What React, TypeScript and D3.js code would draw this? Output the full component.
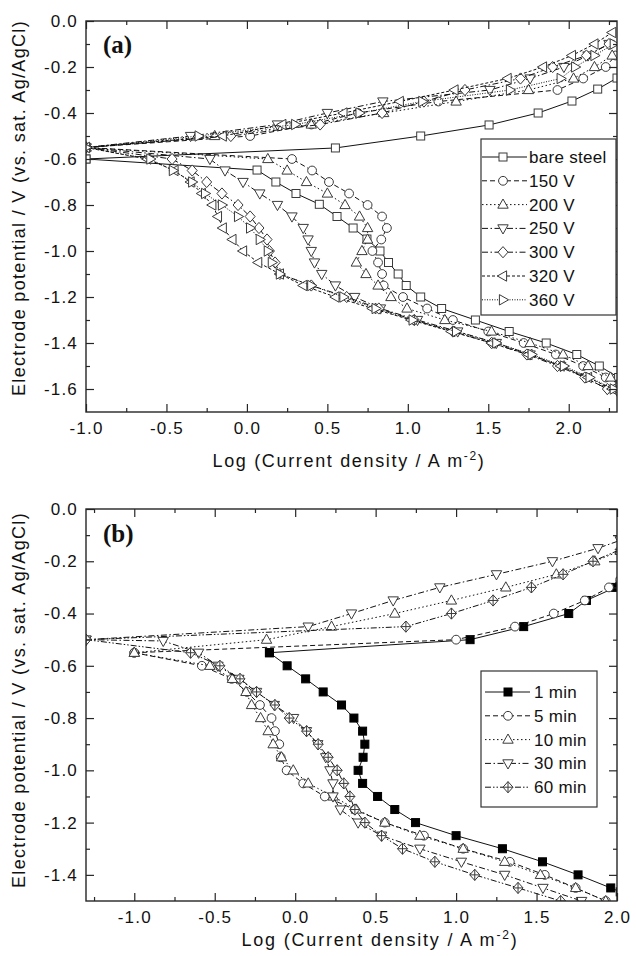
import React, { useEffect, useRef } from "react";
import * as d3 from "d3";

type P = [number, number];

// ---------------- Panel (a): coating voltage ----------------
const aLegend = ["bare steel", "150 V", "200 V", "250 V", "300 V", "320 V", "360 V"];
const aXTicks = [-1.0, -0.5, 0.0, 0.5, 1.0, 1.5, 2.0];
const aYTicks = [0, -0.2, -0.4, -0.6, -0.8, -1.0, -1.2, -1.4, -1.6];

const aBareAn: P[] = [[-1, -0.6], [0.55, -0.552], [1.08, -0.5], [1.505, -0.452], [1.81, -0.4], [2.02, -0.348], [2.18, -0.296], [2.3, -0.248]];
const aBareCa: P[] = [[-1, -0.6], [0.063, -0.648], [0.18, -0.7], [0.305, -0.75], [0.45, -0.797], [0.56, -0.85], [0.66, -0.9], [0.746, -0.948], [0.827, -1.0], [0.88, -1.05], [0.94, -1.1], [0.99, -1.15], [1.08, -1.2], [1.21, -1.25], [1.42, -1.3], [1.63, -1.35], [1.86, -1.4], [2.05, -1.45], [2.19, -1.5], [2.31, -1.55]];

const a150An: P[] = [[-1, -0.55], [0.02, -0.5], [0.4, -0.45], [0.69, -0.4], [1.19, -0.35], [1.93, -0.3], [2.09, -0.25], [2.23, -0.2], [2.29, -0.15]];
const a150Ca: P[] = [[-1, -0.55], [0.28, -0.6], [0.405, -0.65], [0.51, -0.7], [0.635, -0.75], [0.75, -0.8], [0.84, -0.85], [0.87, -0.9], [0.835, -0.95], [0.78, -1.0], [0.815, -1.05], [0.84, -1.1], [0.85, -1.15], [0.97, -1.2], [1.12, -1.25], [1.28, -1.3], [1.5, -1.35], [1.72, -1.4], [1.92, -1.45], [2.09, -1.5], [2.23, -1.55], [2.32, -1.58]];

const a200An: P[] = [[-1, -0.55], [-0.2, -0.5], [0.4, -0.45], [0.85, -0.4], [1.3, -0.35], [1.75, -0.3], [2.03, -0.25], [2.16, -0.2], [2.27, -0.15]];
const a200Ca: P[] = [[-1, -0.55], [0.13, -0.6], [0.25, -0.65], [0.37, -0.7], [0.5, -0.75], [0.61, -0.8], [0.7, -0.85], [0.75, -0.9], [0.75, -0.95], [0.715, -1.0], [0.68, -1.05], [0.74, -1.1], [0.815, -1.15], [0.895, -1.2], [0.995, -1.25], [1.23, -1.3], [1.52, -1.35], [1.76, -1.4], [1.965, -1.45], [2.12, -1.5], [2.26, -1.55], [2.32, -1.57]];

const a250An: P[] = [[-1, -0.55], [-0.35, -0.5], [0.19, -0.45], [0.5, -0.4], [0.845, -0.35], [1.51, -0.3], [1.76, -0.25], [1.97, -0.2], [2.12, -0.15], [2.25, -0.1]];
const a250Ca: P[] = [[-1, -0.55], [-0.23, -0.6], [-0.136, -0.65], [-0.024, -0.7], [0.08, -0.75], [0.19, -0.8], [0.28, -0.85], [0.35, -0.9], [0.38, -0.95], [0.4, -1.0], [0.42, -1.05], [0.465, -1.1], [0.55, -1.15], [0.67, -1.2], [0.83, -1.25], [1.06, -1.3], [1.31, -1.35], [1.55, -1.4], [1.76, -1.45], [1.95, -1.5], [2.1, -1.55], [2.24, -1.6], [2.32, -1.63]];

const a300An: P[] = [[-1, -0.55], [-0.1, -0.5], [0.455, -0.45], [0.84, -0.4], [1.1, -0.35], [1.355, -0.3], [1.7, -0.25], [1.9, -0.2], [2.11, -0.15], [2.25, -0.1]];
const a300Ca: P[] = [[-1, -0.55], [-0.465, -0.6], [-0.34, -0.65], [-0.25, -0.7], [-0.155, -0.75], [-0.055, -0.8], [0.02, -0.85], [0.075, -0.9], [0.125, -0.95], [0.14, -1.0], [0.175, -1.05], [0.205, -1.1], [0.4, -1.15], [0.62, -1.2], [0.82, -1.25], [1.04, -1.3], [1.28, -1.35], [1.52, -1.4], [1.74, -1.45], [1.93, -1.5], [2.1, -1.55], [2.24, -1.6], [2.33, -1.63]];

const a320An: P[] = [[-1, -0.55], [-0.15, -0.5], [0.22, -0.45], [0.6, -0.4], [0.95, -0.35], [1.29, -0.3], [1.62, -0.25], [1.84, -0.2], [2.02, -0.15], [2.16, -0.1], [2.27, -0.05]];
const a320Ca: P[] = [[-1, -0.55], [-0.62, -0.6], [-0.45, -0.65], [-0.35, -0.7], [-0.28, -0.75], [-0.215, -0.8], [-0.18, -0.85], [-0.15, -0.9], [-0.09, -0.95], [-0.024, -1.0], [0.07, -1.05], [0.205, -1.1], [0.35, -1.15], [0.55, -1.2], [0.78, -1.25], [1.02, -1.3], [1.27, -1.35], [1.52, -1.4], [1.75, -1.45], [1.95, -1.5], [2.12, -1.55], [2.27, -1.6]];

const a360An: P[] = [[-1, -0.55], [-0.3, -0.5], [0.3, -0.45], [0.7, -0.4], [1.09, -0.35], [1.635, -0.3], [1.95, -0.25], [2.04, -0.2], [2.16, -0.15], [2.28, -0.1]];
const a360Ca: P[] = [[-1, -0.55], [-0.6, -0.6], [-0.46, -0.65], [-0.34, -0.7], [-0.26, -0.75], [-0.155, -0.8], [-0.055, -0.85], [0.02, -0.9], [0.08, -0.95], [0.13, -1.0], [0.155, -1.05], [0.205, -1.1], [0.4, -1.15], [0.6, -1.2], [0.8, -1.25], [1.03, -1.3], [1.3, -1.35], [1.55, -1.4], [1.77, -1.45], [1.97, -1.5], [2.13, -1.55], [2.28, -1.6]];

// ---------------- Panel (b): treatment time ----------------
const bLegend = ["1 min", "5 min", "10 min", "30 min", "60 min"];
const bXTicks = [-1.0, -0.5, 0.0, 0.5, 1.0, 1.5, 2.0];
const bYTicks = [0, -0.2, -0.4, -0.6, -0.8, -1.0, -1.2, -1.4];

const b1An: P[] = [[-0.16, -0.55], [1.087, -0.5], [1.42, -0.45], [1.7, -0.4], [1.81, -0.35], [1.99, -0.3], [2.02, -0.29]];
const b1Ca: P[] = [[-0.16, -0.55], [-0.05, -0.6], [0.065, -0.65], [0.174, -0.7], [0.288, -0.75], [0.365, -0.8], [0.419, -0.85], [0.433, -0.9], [0.422, -0.95], [0.391, -1.0], [0.419, -1.05], [0.512, -1.1], [0.619, -1.15], [0.748, -1.2], [1.0, -1.25], [1.288, -1.3], [1.537, -1.35], [1.758, -1.4], [1.961, -1.45], [2.02, -1.465]];

const b5An: P[] = [[-1.0, -0.55], [1.0, -0.5], [1.366, -0.45], [1.607, -0.4], [1.8, -0.35], [1.95, -0.3], [2.02, -0.27]];
const b5Ca: P[] = [[-1.0, -0.55], [-0.58, -0.6], [-0.395, -0.65], [-0.3, -0.7], [-0.219, -0.75], [-0.147, -0.8], [-0.126, -0.85], [-0.099, -0.9], [-0.09, -0.95], [-0.053, -1.0], [0.05, -1.05], [0.184, -1.1], [0.37, -1.15], [0.557, -1.2], [0.8, -1.25], [1.044, -1.3], [1.334, -1.35], [1.551, -1.4], [1.743, -1.45], [1.93, -1.5]];

const b10An: P[] = [[-1.0, -0.55], [-0.178, -0.5], [0.226, -0.45], [0.619, -0.4], [0.971, -0.35], [1.309, -0.3], [1.623, -0.25], [1.862, -0.2], [2.02, -0.16]];
const b10Ca: P[] = [[-1.0, -0.55], [-0.53, -0.6], [-0.39, -0.65], [-0.306, -0.7], [-0.271, -0.75], [-0.215, -0.8], [-0.168, -0.85], [-0.137, -0.9], [-0.085, -0.95], [-0.012, -1.0], [0.081, -1.05], [0.236, -1.1], [0.38, -1.15], [0.557, -1.2], [0.775, -1.25], [1.044, -1.3], [1.302, -1.35], [1.524, -1.4], [1.743, -1.45], [1.93, -1.5]];

const b30An: P[] = [[-1.3, -0.5], [0.081, -0.45], [0.35, -0.4], [0.609, -0.35], [0.899, -0.3], [1.251, -0.25], [1.599, -0.2], [1.882, -0.15], [2.02, -0.12]];
const b30Ca: P[] = [[-1.3, -0.5], [-0.82, -0.505], [-0.6, -0.55], [-0.48, -0.6], [-0.35, -0.65], [-0.24, -0.7], [-0.13, -0.75], [-0.01, -0.8], [0.07, -0.85], [0.14, -0.9], [0.19, -0.95], [0.216, -1.0], [0.235, -1.05], [0.235, -1.1], [0.28, -1.15], [0.391, -1.2], [0.537, -1.25], [0.775, -1.3], [1.033, -1.35], [1.302, -1.4], [1.54, -1.45], [1.78, -1.5]];

const b60An: P[] = [[-1.3, -0.5], [0.688, -0.45], [0.971, -0.4], [1.23, -0.35], [1.468, -0.3], [1.665, -0.25], [1.851, -0.2], [2.02, -0.155]];
const b60Ca: P[] = [[-1.3, -0.5], [-0.65, -0.55], [-0.468, -0.6], [-0.343, -0.65], [-0.24, -0.7], [-0.126, -0.75], [-0.037, -0.8], [0.071, -0.85], [0.143, -0.9], [0.205, -0.95], [0.261, -1.0], [0.302, -1.05], [0.34, -1.1], [0.371, -1.15], [0.433, -1.2], [0.537, -1.25], [0.667, -1.3], [0.868, -1.35], [1.116, -1.4], [1.385, -1.45], [1.65, -1.5]];

// ---------------- styling / layout ----------------
const FONT = "'Liberation Sans', Arial, Helvetica, sans-serif";
const SERIF = "'Liberation Serif', 'Times New Roman', serif";
const PL = 86;
const PR = 617;
const AX = "#262626";
const MK = "#3a3a3a";

const DASH = {
  solid: null as string | null,
  dash: "5,3",
  dot: "1.5,2.5",
  dashDot: "6,2.5,1.5,2.5",
  dashDotDot: "6,2,1.5,2,1.5,2",
  shortDash: "3,2",
  shortDot: "1,1.5",
};

type Series = { name: string; marker: string; dash: string | null; an: P[]; ca: P[] };

const seriesA: Series[] = [
  { name: aLegend[0], marker: "square", dash: DASH.solid, an: aBareAn, ca: aBareCa },
  { name: aLegend[1], marker: "circle", dash: DASH.dash, an: a150An, ca: a150Ca },
  { name: aLegend[2], marker: "triUp", dash: DASH.dot, an: a200An, ca: a200Ca },
  { name: aLegend[3], marker: "triDown", dash: DASH.dashDot, an: a250An, ca: a250Ca },
  { name: aLegend[4], marker: "diamond", dash: DASH.dashDot, an: a300An, ca: a300Ca },
  { name: aLegend[5], marker: "triLeft", dash: DASH.shortDash, an: a320An, ca: a320Ca },
  { name: aLegend[6], marker: "triRight", dash: DASH.shortDot, an: a360An, ca: a360Ca },
];

const seriesB: Series[] = [
  { name: bLegend[0], marker: "filledSquare", dash: DASH.solid, an: b1An, ca: b1Ca },
  { name: bLegend[1], marker: "circle", dash: DASH.dash, an: b5An, ca: b5Ca },
  { name: bLegend[2], marker: "triUp", dash: DASH.dot, an: b10An, ca: b10Ca },
  { name: bLegend[3], marker: "triDown", dash: DASH.dashDot, an: b30An, ca: b30Ca },
  { name: bLegend[4], marker: "crossDiamond", dash: DASH.dashDotDot, an: b60An, ca: b60Ca },
];

const panels = [
  {
    id: "a", label: "(a)", labelY: 53,
    xDomain: [-1.0, 2.3], yDomain: [-1.7, 0], top: 21, bottom: 412,
    xTicks: aXTicks, xMinor: d3.range(-0.75, 2.3, 0.5), yTicks: aYTicks, yMinor: d3.range(-0.1, -1.65, -0.2),
    series: seriesA,
    legend: { x: 481, y: 139, w: 135, h: 176, row0: 157, dy: 23.8, l0: 482, l1: 527, mx: 503, tx: 529 },
    xTitleCX: 349, xTitleY: 467, xTitleW: 273, yTitleCY: 208,
  },
  {
    id: "b", label: "(b)", labelY: 542,
    xDomain: [-1.3, 2.0], yDomain: [-1.5, 0], top: 509, bottom: 901,
    xTicks: bXTicks, xMinor: d3.range(-1.25, 2.0, 0.5), yTicks: bYTicks, yMinor: d3.range(-0.1, -1.45, -0.2),
    series: seriesB,
    legend: { x: 481, y: 671, w: 116, h: 136, row0: 692, dy: 23.8, l0: 485, l1: 530, mx: 508, tx: 534 },
    xTitleCX: 380, xTitleY: 946, xTitleW: 277, yTitleCY: 700,
  },
];

function drawMarker(g: any, kind: string, cx: number, cy: number) {
  const st = (el: any, fill = "#fff") => el.attr("fill", fill).attr("stroke", MK).attr("stroke-width", 1);
  switch (kind) {
    case "square":
      st(g.append("rect").attr("x", cx - 4).attr("y", cy - 4).attr("width", 8).attr("height", 8));
      break;
    case "filledSquare":
      st(g.append("rect").attr("x", cx - 4).attr("y", cy - 4).attr("width", 8).attr("height", 8), "#000").attr("stroke", "#000");
      break;
    case "circle":
      st(g.append("circle").attr("cx", cx).attr("cy", cy).attr("r", 4.4));
      break;
    case "triUp":
      st(g.append("path").attr("d", `M${cx},${cy - 5.6}L${cx + 5.2},${cy + 3.6}L${cx - 5.2},${cy + 3.6}Z`));
      break;
    case "triDown":
      st(g.append("path").attr("d", `M${cx},${cy + 5.6}L${cx + 5.2},${cy - 3.6}L${cx - 5.2},${cy - 3.6}Z`));
      break;
    case "triLeft":
      st(g.append("path").attr("d", `M${cx - 5.6},${cy}L${cx + 3.6},${cy - 5.2}L${cx + 3.6},${cy + 5.2}Z`));
      break;
    case "triRight":
      st(g.append("path").attr("d", `M${cx + 5.6},${cy}L${cx - 3.6},${cy - 5.2}L${cx - 3.6},${cy + 5.2}Z`));
      break;
    case "diamond":
      st(g.append("path").attr("d", `M${cx},${cy - 5.6}L${cx + 5},${cy}L${cx},${cy + 5.6}L${cx - 5},${cy}Z`));
      break;
    case "crossDiamond":
      st(g.append("path").attr("d", `M${cx},${cy - 5.6}L${cx + 5},${cy}L${cx},${cy + 5.6}L${cx - 5},${cy}Z`));
      g.append("path").attr("d", `M${cx},${cy - 5.6}V${cy + 5.6}M${cx - 5},${cy}H${cx + 5}`)
        .attr("stroke", MK).attr("stroke-width", 1).attr("fill", "none");
      break;
  }
}

const fmt = (v: number) => (Math.abs(v) < 1e-9 ? "0.0" : v.toFixed(1));

function fitText(sel: any, target: number) {
  const node = sel.node() as SVGTextElement;
  const n = (node.textContent || "").length;
  const len = node.getComputedTextLength();
  if (n > 1) sel.attr("letter-spacing", ((target - len) / n).toFixed(3));
}

function drawPanel(root: any, cfg: any) {
  const x = d3.scaleLinear().domain(cfg.xDomain).range([PL, PR]);
  const y = d3.scaleLinear().domain(cfg.yDomain).range([cfg.bottom, cfg.top]);
  const g = root.append("g");
  const clipId = "clip-" + cfg.id;
  g.append("clipPath").attr("id", clipId).append("rect")
    .attr("x", PL).attr("y", cfg.top).attr("width", PR - PL).attr("height", cfg.bottom - cfg.top);

  const plot = g.append("g").attr("clip-path", `url(#${clipId})`);
  const line = d3.line<P>().x((d) => x(d[0])).y((d) => y(d[1]));
  (cfg.series as Series[]).forEach((s) => {
    [s.an, s.ca].forEach((br) => {
      plot.append("path").attr("d", line(br)).attr("fill", "none").attr("stroke", "#111")
        .attr("stroke-width", 1).attr("stroke-dasharray", s.dash);
    });
    [s.an, s.ca].forEach((br) => br.forEach((p) => drawMarker(plot, s.marker, x(p[0]), y(p[1]))));
  });

  // axes (ticks pointing inward on all four sides)
  const styleAxis = (sel: any) => {
    sel.select(".domain").remove();
    sel.selectAll("line").attr("stroke", AX).attr("stroke-width", 1.2);
    sel.selectAll("text").attr("font-family", FONT).attr("font-size", 17).attr("fill", "#111").attr("letter-spacing", 1.2);
    sel.attr("font-family", null).attr("font-size", null);
  };
  const none = () => "";
  g.append("g").attr("transform", `translate(0,${cfg.bottom})`)
    .call(d3.axisBottom(x).tickValues(cfg.xTicks).tickSize(-8).tickSizeOuter(0).tickPadding(10).tickFormat(fmt as any)).call(styleAxis);
  g.append("g").attr("transform", `translate(0,${cfg.bottom})`)
    .call(d3.axisBottom(x).tickValues(cfg.xMinor).tickSize(-4).tickSizeOuter(0).tickFormat(none as any)).call(styleAxis);
  g.append("g").attr("transform", `translate(0,${cfg.top})`)
    .call(d3.axisTop(x).tickValues(cfg.xTicks).tickSize(-8).tickSizeOuter(0).tickFormat(none as any)).call(styleAxis);
  g.append("g").attr("transform", `translate(0,${cfg.top})`)
    .call(d3.axisTop(x).tickValues(cfg.xMinor).tickSize(-4).tickSizeOuter(0).tickFormat(none as any)).call(styleAxis);
  g.append("g").attr("transform", `translate(${PL},0)`)
    .call(d3.axisLeft(y).tickValues(cfg.yTicks).tickSize(-8).tickSizeOuter(0).tickPadding(8).tickFormat(fmt as any)).call(styleAxis);
  g.append("g").attr("transform", `translate(${PL},0)`)
    .call(d3.axisLeft(y).tickValues(cfg.yMinor).tickSize(-4).tickSizeOuter(0).tickFormat(none as any)).call(styleAxis);
  g.append("g").attr("transform", `translate(${PR},0)`)
    .call(d3.axisRight(y).tickValues(cfg.yTicks).tickSize(-8).tickSizeOuter(0).tickFormat(none as any)).call(styleAxis);
  g.append("g").attr("transform", `translate(${PR},0)`)
    .call(d3.axisRight(y).tickValues(cfg.yMinor).tickSize(-4).tickSizeOuter(0).tickFormat(none as any)).call(styleAxis);

  g.append("rect").attr("x", PL).attr("y", cfg.top).attr("width", PR - PL).attr("height", cfg.bottom - cfg.top)
    .attr("fill", "none").attr("stroke", AX).attr("stroke-width", 1.4);

  // panel label
  g.append("text").attr("x", 103).attr("y", cfg.labelY).attr("font-family", SERIF).attr("font-weight", "bold")
    .attr("font-size", 25).attr("fill", "#111").text(cfg.label);

  // legend
  const L = cfg.legend;
  const lg = g.append("g");
  lg.append("rect").attr("x", L.x).attr("y", L.y).attr("width", L.w).attr("height", L.h)
    .attr("fill", "#fff").attr("stroke", "#333").attr("stroke-width", 1.2);
  (cfg.series as Series[]).forEach((s, i) => {
    const yy = L.row0 + i * L.dy;
    lg.append("line").attr("x1", L.l0).attr("x2", L.l1).attr("y1", yy).attr("y2", yy)
      .attr("stroke", "#111").attr("stroke-width", 1).attr("stroke-dasharray", s.dash);
    drawMarker(lg, s.marker, L.mx, yy);
    lg.append("text").attr("x", L.tx).attr("y", yy + 6).attr("font-family", FONT).attr("font-size", 17)
      .attr("letter-spacing", 0.3).attr("fill", "#111").text(s.name);
  });

  // axis titles
  const xt = g.append("text").attr("x", cfg.xTitleCX).attr("y", cfg.xTitleY).attr("text-anchor", "middle")
    .attr("font-family", FONT).attr("font-size", 18).attr("fill", "#111");
  xt.append("tspan").text("Log (Current density / A m");
  xt.append("tspan").attr("dy", -7).attr("font-size", 12).text("-2");
  xt.append("tspan").attr("dy", 7).text(")");
  fitText(xt, cfg.xTitleW);

  const yt = g.append("text").attr("transform", `translate(25,${cfg.yTitleCY}) rotate(-90)`).attr("text-anchor", "middle")
    .attr("font-family", FONT).attr("font-size", 18).attr("fill", "#111")
    .text("Electrode potential / V (vs. sat. Ag/AgCl)");
  fitText(yt, 376);
}

export default function App() {
  const ref = useRef<SVGSVGElement>(null);
  useEffect(() => {
    const svg = d3.select(ref.current);
    svg.selectAll("*").remove();
    svg.append("rect").attr("width", 636).attr("height", 956).attr("fill", "#fff");
    panels.forEach((p) => drawPanel(svg, p));
  }, []);
  return (
    <svg ref={ref} width={636} height={956} viewBox="0 0 636 956"
      style={{ position: "absolute", left: 0, top: 0, display: "block", background: "#fff" }} />
  );
}
